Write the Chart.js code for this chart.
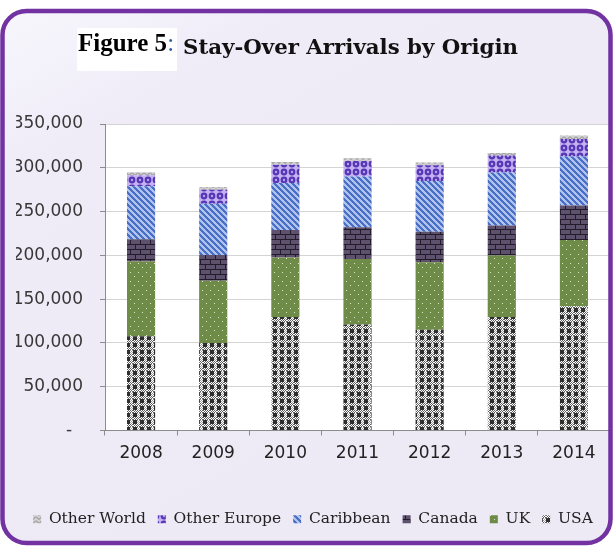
<!DOCTYPE html>
<html>
<head>
<meta charset="utf-8">
<script src="https://cdn.jsdelivr.net/npm/chart.js@4.4.1/dist/chart.umd.min.js"></script>
<style>
  html, body { margin: 0; padding: 0; background: #ffffff; }
  #wrap { position: relative; width: 613px; height: 546px; overflow: hidden; }
  #c { position: absolute; left: 0; top: 0; }
  #figbox { position: absolute; left: 77px; top: 28px; width: 100px; height: 43px; background: #ffffff; }
  #fig { position: absolute; left: 78px; top: 30px; font: bold 25px "Liberation Serif", serif; line-height: 1; color: #000; white-space: nowrap; }
  #fig span { color: #2E5C9E; font-weight: normal; }
  #ttl { position: absolute; left: 183px; top: 36px; font: bold 21.3px "DejaVu Serif", serif; line-height: 1; color: #111; white-space: nowrap; }
</style>
</head>
<body>
<div id="wrap">
  <canvas id="c" width="613" height="546"></canvas>
  <div id="figbox"></div>
  <div id="fig">Figure 5<span>:</span></div>
  <div id="ttl">Stay-Over Arrivals by Origin</div>
</div>
<script>
// ---- data ----
const categories = ["2008", "2009", "2010", "2011", "2012", "2013", "2014"];
const usa         = [107700, 100000, 129700, 121000, 115000, 129700, 141800];
const uk          = [85300, 71000, 67800, 74700, 77000, 70100, 75800];
const canada      = [25000, 29500, 31500, 36300, 35000, 34200, 39400];
const caribbean   = [61000, 58500, 53700, 58000, 58000, 60500, 56000];
const otherEurope = [12500, 16000, 20900, 17700, 17800, 19500, 20000];
const otherWorld  = [3500, 3000, 3000, 3300, 3200, 3000, 4000];
const yTicks = [0, 50000, 100000, 150000, 200000, 250000, 300000, 350000];

// ---- patterns ----
function makePattern(w, h, draw) {
  const cv = document.createElement('canvas');
  cv.width = w; cv.height = h;
  const g = cv.getContext('2d');
  draw(g, w, h);
  return document.getElementById('c').getContext('2d').createPattern(cv, 'repeat');
}
const px = (g, c, x, y, w = 1, h = 1) => { g.fillStyle = c; g.fillRect(x, y, w, h); };

const patUSA = makePattern(7, 7, (g) => {
  px(g, '#ffffff', 0, 0, 7, 7);
  px(g, '#2E2E2E', 0, 0, 4, 4);
  for (let y = 0; y < 7; y++) for (let x = 0; x < 7; x++) {
    if ((y >= 4 || x >= 4) && (x + y) % 2 === 0) px(g, y >= 4 ? '#5e5e5e' : '#a0a0a0', x, y);
  }
});
const patUK = makePattern(8, 9, (g) => {
  px(g, '#6E8B48', 0, 0, 8, 9);
  px(g, '#DDE6C6', 2, 2);
  px(g, '#DDE6C6', 6, 6);
});
const patCanada = makePattern(10, 10, (g) => {
  px(g, '#5E516E', 0, 0, 10, 10);
  px(g, '#221B2A', 0, 4, 10, 1);
  px(g, '#221B2A', 0, 9, 10, 1);
  px(g, '#221B2A', 0, 0, 1, 4);
  px(g, '#221B2A', 5, 5, 1, 4);
});
const patCarib = makePattern(6, 6, (g) => {
  px(g, '#AFC3EE', 0, 0, 6, 6);
  for (let y = 0; y < 6; y++) for (let x = 0; x < 6; x++) {
    if (((x - y) % 6 + 6) % 6 < 3) px(g, '#4A6FC6', x, y);
  }
});
const patOE = makePattern(8, 8, (g) => {
  px(g, '#C4B2F2', 0, 0, 8, 8);
  g.fillStyle = '#5636B4';
  g.beginPath(); g.arc(4, 4, 3.4, 0, Math.PI * 2); g.fill();
  g.fillStyle = '#B7A2EE';
  g.beginPath(); g.arc(4, 4, 1.2, 0, Math.PI * 2); g.fill();
});
const patOW = makePattern(6, 4, (g) => {
  px(g, '#D0D0D0', 0, 0, 6, 4);
  g.strokeStyle = '#858585'; g.lineWidth = 1;
  g.beginPath(); g.moveTo(0, 0.5); g.lineTo(3, 3.5); g.lineTo(6, 0.5); g.stroke();
});

// ---- plugins: frame & plot background ----
const framePlugin = {
  id: 'frame',
  beforeDraw(chart) {
    const ctx = chart.ctx;
    ctx.save();
    ctx.fillStyle = '#ffffff';
    ctx.fillRect(0, 0, 613, 546);
    const grd = ctx.createLinearGradient(0, 0, 300, 546);
    grd.addColorStop(0, '#F8F7FC');
    grd.addColorStop(0.25, '#EFECF8');
    grd.addColorStop(1, '#EDEAF6');
    ctx.fillStyle = grd;
    ctx.beginPath();
    ctx.roundRect(2.5, 11, 608, 532, 24);
    ctx.fill();
    const a = chart.chartArea;
    ctx.fillStyle = '#ffffff';
    ctx.fillRect(a.left, a.top, a.right - a.left, a.bottom - a.top);
    ctx.restore();
  },
  afterDraw(chart) {
    const ctx = chart.ctx;
    ctx.save();
    ctx.strokeStyle = '#7232A2';
    ctx.lineWidth = 4.5;
    ctx.beginPath();
    ctx.roundRect(2.5, 11, 608, 532, 24);
    ctx.stroke();
    ctx.restore();
  }
};

const mk = (label, data, bg) => ({
  label, data, backgroundColor: bg, borderWidth: 0,
  barPercentage: 0.39, categoryPercentage: 1.0
});

new Chart(document.getElementById('c'), {
  type: 'bar',
  data: {
    labels: categories,
    datasets: [
      mk('USA', usa, patUSA),
      mk('UK', uk, patUK),
      mk('Canada', canada, patCanada),
      mk('Caribbean', caribbean, patCarib),
      mk('Other Europe', otherEurope, patOE),
      mk('Other World', otherWorld, patOW)
    ]
  },
  options: {
    responsive: false,
    animation: false,
    devicePixelRatio: 1,
    layout: { padding: { top: 124, right: 3, bottom: 9, left: 16 } },
    plugins: {
      title: { display: false },
      tooltip: { enabled: false },
      legend: {
        position: 'bottom',
        reverse: true,
        labels: {
          boxWidth: 8, boxHeight: 8, padding: 12,
          color: '#222',
          font: { family: '"DejaVu Serif", serif', size: 15.5 }
        }
      }
    },
    scales: {
      x: {
        stacked: true,
        offset: true,
        afterFit(s) { s.height = 69; },
        grid: { display: true, drawOnChartArea: false, drawTicks: true, tickLength: 5, color: '#8C8C8C', offset: true },
        border: { display: true, color: '#8C8C8C', width: 1 },
        ticks: { color: '#222', padding: 8, font: { family: '"DejaVu Sans", sans-serif', size: 17 } }
      },
      y: {
        stacked: true,
        min: 0, max: 350000,
        afterFit(s) { s.width = 89; },
        afterBuildTicks(s) { s.ticks = yTicks.map(v => ({ value: v })); },
        grid: { color: '#D4D4D4', tickColor: '#8C8C8C', tickLength: 5, drawTicks: true },
        border: { display: true, color: '#8C8C8C', width: 1 },
        ticks: {
          color: '#383838', padding: 17,
          font: { family: '"DejaVu Sans", sans-serif', size: 17 },
          callback: (v) => v === 0 ? '-  ' : v.toLocaleString('en-US')
        }
      }
    }
  },
  plugins: [framePlugin]
});
</script>
</body>
</html>
